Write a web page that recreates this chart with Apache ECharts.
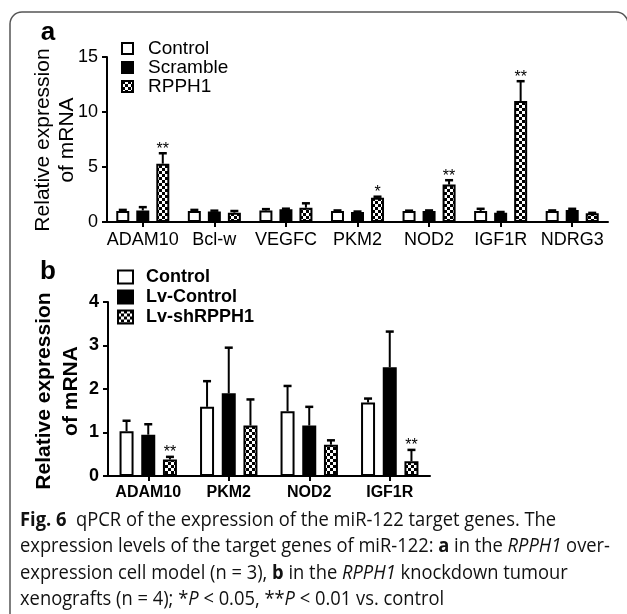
<!DOCTYPE html>
<html><head><meta charset="utf-8">
<script src="https://cdn.jsdelivr.net/npm/echarts@6/dist/echarts.min.js"></script>
<style>html,body{margin:0;padding:0;background:#fff}#c{width:627px;height:614px}</style>
</head><body><div id="c"></div>
<script>
// ---------- Panel a data ----------
const catsA = ['ADAM10','Bcl-w','VEGFC','PKM2','NOD2','IGF1R','NDRG3'];
const namesA = ['Control','Scramble','RPPH1'];
const controlA    = [1.0, 1.0, 1.05, 1.0, 1.0, 1.0, 1.0];
const controlErrA = [0.1, 0.1, 0.12, 0.05, 0.03, 0.2, 0.05];
const scrambleA    = [1.05, 0.95, 1.15, 0.9, 1.0, 0.85, 1.1];
const scrambleErrA = [0.3, 0.08, 0.06, 0.05, 0.05, 0.06, 0.1];
const rpph1A    = [5.3, 0.85, 1.3, 2.2, 3.4, 11.0, 0.8];
const rpph1ErrA = [0.95, 0.15, 0.4, 0.1, 0.4, 1.8, 0.03];
const sigA = ['**','','','*','**','**',''];
const yTicksA = [0, 5, 10, 15];

// ---------- Panel b data ----------
const catsB = ['ADAM10','PKM2','NOD2','IGF1R'];
const namesB = ['Control','Lv-Control','Lv-shRPPH1'];
const controlB    = [1.03, 1.59, 1.49, 1.69];
const controlErrB = [0.24, 0.59, 0.58, 0.09];
const lvControlB    = [0.95, 1.9, 1.16, 2.5];
const lvControlErrB = [0.24, 1.05, 0.43, 0.82];
const shB    = [0.38, 1.16, 0.72, 0.34];
const shErrB = [0.06, 0.6, 0.1, 0.26];
const sigB = ['**','','','**'];
const yTicksB = [0, 1, 2, 3, 4];

// ---------- Caption ----------
const captionLines = [
  [['b','Fig. 6'],['r','  qPCR of the expression of the miR-122 target genes. The']],
  [['r','expression levels of the target genes of miR-122: '],['b','a'],['r',' in the '],['i','RPPH1'],['r',' over-']],
  [['r','expression cell model (n = 3), '],['b','b'],['r',' in the '],['i','RPPH1'],['r',' knockdown tumour']],
  [['r','xenografts (n = 4); *'],['i','P'],['r',' < 0.05, **'],['i','P'],['r',' < 0.01 vs. control']]
];

const FONT = '"Liberation Sans", Arial, sans-serif';
const CAPFONT = '"Open Sans", sans-serif';
const CAPSIZE = 19.5;

function checker(cell){
  const c = document.createElement('canvas');
  c.width = c.height = cell*2;
  const g = c.getContext('2d');
  g.fillStyle = '#fff'; g.fillRect(0,0,cell*2,cell*2);
  g.fillStyle = '#000'; g.fillRect(0,0,cell,cell); g.fillRect(cell,cell,cell,cell);
  return c;
}
const pattern = {image: checker(3), repeat: 'repeat'};
const fills = ['#fff', '#000', pattern];

function barSeries(name, vals, idx, ax, bw, gap){
  return {type:'bar', name, xAxisIndex:ax, yAxisIndex:ax, data: vals, barWidth: bw, barGap: gap,
    itemStyle:{color: fills[idx], borderColor:'#000', borderWidth:2}, silent:true, z:2};
}
function errSeries(vals, errs, off, ax, spacing, sig){
  return {type:'custom', xAxisIndex:ax, yAxisIndex:ax, silent:true, z:5,
    data: vals.map((v,i)=>[i, v, errs[i]]),
    renderItem(params, api){
      const i = api.value(0), v = api.value(1), e = api.value(2);
      const p0 = api.coord([i, v]), p1 = api.coord([i, v+e]);
      const x = p0[0] + off*spacing;
      const ch = [
        {type:'line', shape:{x1:x,y1:p0[1],x2:x,y2:p1[1]}, style:{stroke:'#000', lineWidth:2}},
        {type:'line', shape:{x1:x-4,y1:p1[1],x2:x+4,y2:p1[1]}, style:{stroke:'#000', lineWidth:2.5}}
      ];
      const s = sig && sig[params.dataIndex];
      if (s) ch.push({type:'text', style:{text:s, x:x, y:p1[1]-4, align:'center', verticalAlign:'middle',
        fontSize:16, fontFamily:FONT, fill:'#000'}});
      return {type:'group', children: ch};
    }};
}

// caption measurement
const mctx = document.createElement('canvas').getContext('2d');
function fontOf(t){ return (t==='b'?'bold ':'') + (t==='i'?'italic ':'') + CAPSIZE + 'px "Open Sans"'; }
function lineWidth(line){ let w=0; line.forEach(([t,s])=>{ mctx.font = fontOf(t); w += mctx.measureText(s).width; }); return w; }
const capScale = 590 / lineWidth(captionLines[1]);
const capRich = {
  r:{fontFamily:CAPFONT, fontSize:CAPSIZE, fill:'#111'},
  b:{fontFamily:CAPFONT, fontSize:CAPSIZE, fontWeight:'bold', fill:'#111'},
  i:{fontFamily:CAPFONT, fontSize:CAPSIZE, fontStyle:'italic', fill:'#111'}
};
const capY = [520, 546.5, 573, 599];
const captionGraphics = captionLines.map((line,k)=>({
  type:'text', x:20, y:capY[k], scaleX: capScale, silent:true,
  style:{text: line.map(([t,s])=>'{'+t+'|'+s+'}').join(''), rich: capRich, verticalAlign:'middle', align:'left',
    fontFamily:CAPFONT, fontSize:CAPSIZE}
}));

const chart = echarts.init(document.getElementById('c'), null, {renderer:'canvas'});
const bwA = 13, bwB = 14, gapA = '54%', gapB = '55%';
const spA = 20, spB = 21.7;

function yAxis(grid, max, interval, bold){
  return {type:'value', gridIndex:grid, min:0, max, interval,
    axisLine:{show:true, lineStyle:{color:'#000', width:2}},
    axisTick:{show:true, length:5, lineStyle:{color:'#000', width:2}},
    splitLine:{show:false},
    axisLabel:{color:'#000', fontSize:18, fontFamily:FONT, fontWeight: bold?'bold':'normal', margin:9}};
}
function xAxis(grid, cats, bold, fs){
  return {type:'category', gridIndex:grid, data:cats, boundaryGap:true,
    axisLine:{show:true, lineStyle:{color:'#000', width:2}},
    axisTick:{show:true, alignWithLabel:true, length:5, lineStyle:{color:'#000', width:2}},
    axisLabel:{color:'#000', fontSize:fs, fontFamily:FONT, fontWeight: bold?'bold':'normal', margin:9, interval:0}};
}

chart.setOption({
  animation:false,
  backgroundColor:'#fff',
  grid:[
    {left:107, top:57, width:501, height:165},
    {left:108, top:302, width:322, height:174}
  ],
  xAxis:[xAxis(0, catsA, false, 18), xAxis(1, catsB, true, 16)],
  yAxis:[yAxis(0, 15, 5, false), yAxis(1, 4, 1, true)],
  legend:[
    {data:namesA, orient:'vertical', left:121, top:39, padding:0, itemGap:0, itemWidth:11, itemHeight:11,
     selectedMode:false, icon:'rect',
     textStyle:{fontSize:19, fontFamily:FONT, color:'#000', lineHeight:19, padding:[0,0,0,10]}},
    {data:namesB, orient:'vertical', left:117, top:267, padding:0, itemGap:0, itemWidth:15, itemHeight:13,
     selectedMode:false, icon:'rect',
     textStyle:{fontSize:18, fontFamily:FONT, fontWeight:'bold', color:'#000', lineHeight:20, padding:[0,0,0,8]}}
  ],
  series:[
    barSeries(namesA[0], controlA, 0, 0, bwA, gapA),
    barSeries(namesA[1], scrambleA, 1, 0, bwA, gapA),
    barSeries(namesA[2], rpph1A, 2, 0, bwA, gapA),
    errSeries(controlA, controlErrA, -1, 0, spA, null),
    errSeries(scrambleA, scrambleErrA, 0, 0, spA, null),
    errSeries(rpph1A, rpph1ErrA, 1, 0, spA, sigA),
    barSeries(namesB[0], controlB, 0, 1, bwB, gapB),
    barSeries(namesB[1], lvControlB, 1, 1, bwB, gapB),
    barSeries(namesB[2], shB, 2, 1, bwB, gapB),
    errSeries(controlB, controlErrB, -1, 1, spB, null),
    errSeries(lvControlB, lvControlErrB, 0, 1, spB, null),
    errSeries(shB, shErrB, 1, 1, spB, sigB)
  ],
  graphic:[
    {type:'rect', shape:{x:10, y:12, width:618, height:700, r:12}, silent:true,
     style:{fill:'none', stroke:'#555', lineWidth:1.5}},
    {type:'text', x:48, y:33, silent:true, style:{text:'a', fontSize:26, fontWeight:'bold', fontFamily:FONT, fill:'#000', align:'center', verticalAlign:'middle'}},
    {type:'text', x:48, y:272, silent:true, style:{text:'b', fontSize:26, fontWeight:'bold', fontFamily:FONT, fill:'#000', align:'center', verticalAlign:'middle'}},
    {type:'text', x:55, y:140, rotation:Math.PI/2, silent:true,
     style:{text:'Relative expression\nof mRNA', fontSize:21, lineHeight:24, fontFamily:FONT, fill:'#000', align:'center', verticalAlign:'middle'}},
    {type:'text', x:57.5, y:391, rotation:Math.PI/2, silent:true,
     style:{text:'Relative expression\nof mRNA', fontSize:21, lineHeight:27, fontWeight:'bold', fontFamily:FONT, fill:'#000', align:'center', verticalAlign:'middle'}}
  ].concat(captionGraphics)
});
</script></body></html>
